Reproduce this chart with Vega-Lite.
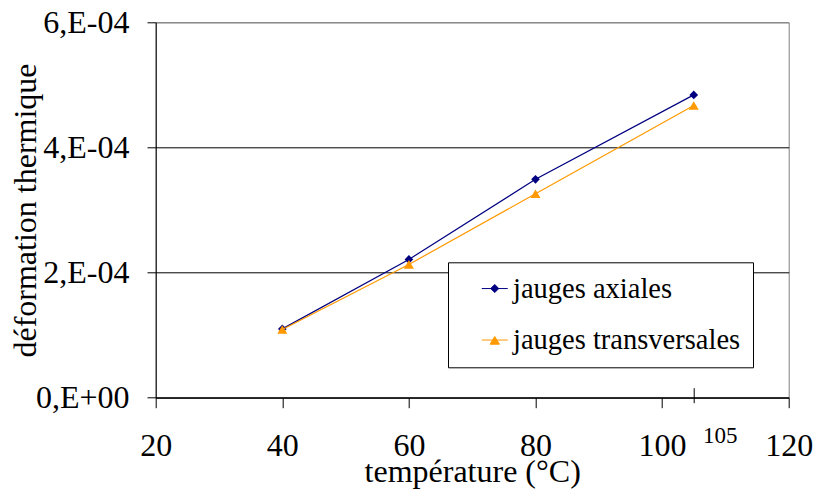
{
  "$schema": "https://vega.github.io/schema/vega-lite/v6.json",
  "width": 633,
  "height": 375.4,
  "autosize": {"type": "none"},
  "padding": {"left": 155.7, "top": 22.3, "right": 27.3, "bottom": 98.3},
  "background": "white",
  "config": {
    "view": {"stroke": "#808080", "strokeWidth": 1},
    "font": "Liberation Serif",
    "legend": {
      "orient": "none",
      "legendX": 292.3,
      "legendY": 240,
      "labelFont": "Liberation Serif",
      "labelFontSize": 28.5,
      "labelColor": "black",
      "labelLimit": 500,
      "padding": 12,
      "strokeColor": "black",
      "fillColor": "white",
      "symbolOffset": 20.5,
      "labelOffset": 4,
      "rowPadding": 22.5,
      "symbolSize": 676,
      "symbolStrokeWidth": 1,
      "symbolOpacity": 1
    }
  },
  "data": {
    "values": [
      {"serie": "jauges axiales", "temperature": 40, "deformation": 0.000110},
      {"serie": "jauges axiales", "temperature": 60, "deformation": 0.000221},
      {"serie": "jauges axiales", "temperature": 80, "deformation": 0.000349},
      {"serie": "jauges axiales", "temperature": 105, "deformation": 0.000484},
      {"serie": "jauges transversales", "temperature": 40, "deformation": 0.000109},
      {"serie": "jauges transversales", "temperature": 60, "deformation": 0.000213},
      {"serie": "jauges transversales", "temperature": 80, "deformation": 0.000326},
      {"serie": "jauges transversales", "temperature": 105, "deformation": 0.000467}
    ]
  },
  "layer": [
    {
      "transform": [{"filter": "datum.serie == 'jauges axiales'"}],
      "mark": {"type": "line", "strokeWidth": 1.2, "color": "#000080", "point": {"shape": "diamond", "filled": true, "size": 75, "color": "#000080", "opacity": 1}},
      "encoding": {
        "x": {
          "field": "temperature",
          "type": "quantitative",
          "scale": {"domain": [20, 120], "nice": false, "zero": false},
          "axis": {
            "orient": "bottom",
            "values": [20, 40, 60, 80, 100, 120],
            "title": "température (°C)",
            "grid": false,
            "domainColor": "black",
            "tickColor": "black",
            "tickSize": 10,
            "labelFlush": false,
            "labelOverlap": false,
            "labelFont": "Liberation Serif",
            "labelFontSize": 32,
            "labelColor": "black",
            "labelBaseline": "alphabetic",
            "labelPadding": 48,
            "titleFont": "Liberation Serif",
            "titleFontSize": 32,
            "titleFontWeight": "normal",
            "titleColor": "black",
            "titleX": 316.5,
            "titleY": 84,
            "titleAlign": "center",
            "titleBaseline": "alphabetic"
          }
        },
        "y": {
          "field": "deformation",
          "type": "quantitative",
          "scale": {"domain": [0, 0.0006], "nice": false},
          "axis": {
            "values": [0, 0.0002, 0.0004, 0.0006],
            "labelExpr": "datum.value == 0 ? '0,E+00' : round(datum.value * 10000) + ',E-04'",
            "title": "déformation thermique",
            "grid": true,
            "gridColor": {"condition": {"test": "datum.value > 0.00055", "value": "#808080"}, "value": "black"},
            "gridWidth": 1,
            "domainColor": "black",
            "tickColor": "black",
            "tickSize": 8.7,
            "labelOverlap": false,
            "labelFont": "Liberation Serif",
            "labelFontSize": 32,
            "labelColor": "black",
            "labelPadding": 18,
            "titleFont": "Liberation Serif",
            "titleFontSize": 32,
            "titleFontWeight": "normal",
            "titleColor": "black",
            "titleAngle": -90,
            "titleX": -120,
            "titleY": 187.7,
            "titleAlign": "center",
            "titleBaseline": "alphabetic"
          }
        }
      }
    },
    {
      "transform": [{"filter": "datum.serie == 'jauges transversales'"}],
      "mark": {"type": "line", "strokeWidth": 1.2, "color": "#FF9900", "point": {"shape": "triangle-up", "filled": true, "size": 100, "color": "#FF9900", "opacity": 1}},
      "encoding": {
        "x": {"field": "temperature", "type": "quantitative", "axis": null},
        "y": {"field": "deformation", "type": "quantitative"}
      }
    },
    {
      "transform": [{"filter": "false"}],
      "mark": {"type": "point", "filled": true, "strokeWidth": 1, "opacity": 1},
      "encoding": {
        "x": {
          "field": "temperature",
          "type": "quantitative",
          "axis": {
            "orient": "bottom",
            "values": [105],
            "labelExpr": "'105'",
            "title": null,
            "grid": false,
            "domain": false,
            "offset": -10,
            "tickColor": "black",
            "tickSize": 15,
            "labelFlush": false,
            "labelOverlap": false,
            "labelFont": "Liberation Serif",
            "labelFontSize": 23,
            "labelColor": "black",
            "labelBaseline": "alphabetic",
            "labelPadding": 40.3,
            "labelOffset": 26
          }
        },
        "fill": {
          "field": "serie",
          "type": "nominal",
          "scale": {"domain": ["jauges axiales", "jauges transversales"], "range": ["#000080", "#FF9900"]},
          "legend": {"title": null}
        },
        "stroke": {
          "field": "serie",
          "type": "nominal",
          "scale": {"domain": ["jauges axiales", "jauges transversales"], "range": ["#000080", "#FF9900"]},
          "legend": {"title": null}
        },
        "shape": {
          "field": "serie",
          "type": "nominal",
          "scale": {
            "domain": ["jauges axiales", "jauges transversales"],
            "range": ["M-1,0H1M0,-0.31L0.31,0L0,0.31L-0.31,0Z", "M-1,0H1M0,-0.27L0.36,0.32L-0.36,0.32Z"]
          },
          "legend": {"title": null}
        }
      }
    }
  ],
  "resolve": {"axis": {"x": "independent"}}
}
